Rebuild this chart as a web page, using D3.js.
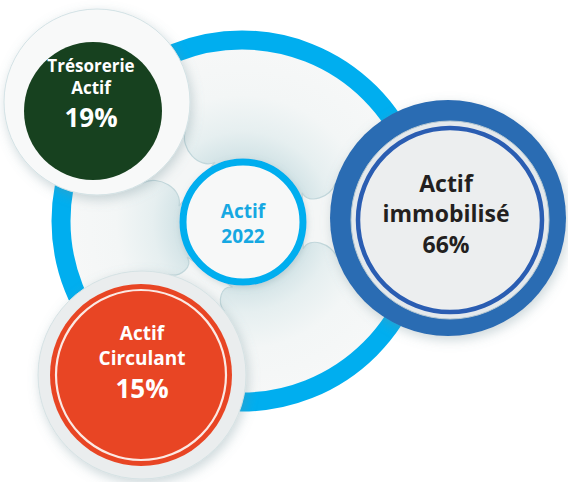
<!DOCTYPE html>
<html>
<head>
<meta charset="utf-8">
<script src="https://cdn.jsdelivr.net/npm/d3@7"></script>
<style>
  body { margin: 0; background: #fff; }
  svg { display: block; }
</style>
</head>
<body>
<script>
// donnees
var titre = ["Actif", "2022"];
var categories = [["Actif", "immobilisé"], ["Trésorerie", "Actif"], ["Actif", "Circulant"]];
var valeurs = [66, 19, 15];
var couleurs = ["#2b6cb3", "#17411f", "#e84524"];

var width = 568, height = 482;

var svg = d3.select("body").append("svg")
    .attr("width", width)
    .attr("height", height);

var defs = svg.append("defs");

// ombres
var ombre = defs.append("filter").attr("id", "ombre")
    .attr("x", "-30%").attr("y", "-30%").attr("width", "160%").attr("height", "160%");
ombre.append("feDropShadow")
    .attr("dx", 2).attr("dy", 4).attr("stdDeviation", 6)
    .attr("flood-color", "#6f8f96").attr("flood-opacity", 0.35);

var ombreDouce = defs.append("filter").attr("id", "ombreDouce")
    .attr("x", "-30%").attr("y", "-30%").attr("width", "160%").attr("height", "160%");
ombreDouce.append("feDropShadow")
    .attr("dx", 1).attr("dy", 2).attr("stdDeviation", 3)
    .attr("flood-color", "#7c9aa0").attr("flood-opacity", 0.3);

var centre = {x: 242, y: 221};
var cc = {x: 243, y: 222};   // cercle "Actif 2022"

// fond de l'anneau : bleute pres du centre
var grad = defs.append("radialGradient").attr("id", "fond")
    .attr("gradientUnits", "userSpaceOnUse")
    .attr("cx", cc.x).attr("cy", cc.y).attr("r", 181);
grad.append("stop").attr("offset", "0.35").attr("stop-color", "#d2e3e6");
grad.append("stop").attr("offset", "0.5").attr("stop-color", "#e6eff0");
grad.append("stop").attr("offset", "0.7").attr("stop-color", "#f3f6f6");
grad.append("stop").attr("offset", "1").attr("stop-color", "#f7f8f8");

svg.append("circle")
    .attr("cx", centre.x).attr("cy", centre.y).attr("r", 172)
    .attr("fill", "url(#fond)");

// positions des bulles
var bulles = [
  {x: 448, y: 218, r: 118, hx: 448, hy: 218, halo: 118},
  {x: 93, y: 111, r: 69, halo: 93, hx: 97, hy: 102},
  {x: 141, y: 375, r: 91, halo: 104, hx: 142, hy: 375}
];

// liaison type metaball entre deux cercles
function metaball(c1, r1, c2, r2, v, poignee) {
  var dx = c2.x - c1.x, dy = c2.y - c1.y;
  var d = Math.sqrt(dx * dx + dy * dy);
  var base = Math.atan2(dy, dx);
  var spread = Math.acos((r1 - r2) / d);
  var a1 = base + spread * v, a2 = base - spread * v;
  var a3 = base + Math.PI - (Math.PI - spread) * v;
  var a4 = base - Math.PI + (Math.PI - spread) * v;
  function pt(c, a, r) { return [c.x + r * Math.cos(a), c.y + r * Math.sin(a)]; }
  var p1 = pt(c1, a1, r1), p2 = pt(c1, a2, r1);
  var p3 = pt(c2, a3, r2), p4 = pt(c2, a4, r2);
  var h1 = [p1[0] + poignee * Math.cos(a1 - Math.PI / 2), p1[1] + poignee * Math.sin(a1 - Math.PI / 2)];
  var h2 = [p2[0] + poignee * Math.cos(a2 + Math.PI / 2), p2[1] + poignee * Math.sin(a2 + Math.PI / 2)];
  var h3 = [p3[0] + poignee * Math.cos(a3 + Math.PI / 2), p3[1] + poignee * Math.sin(a3 + Math.PI / 2)];
  var h4 = [p4[0] + poignee * Math.cos(a4 - Math.PI / 2), p4[1] + poignee * Math.sin(a4 - Math.PI / 2)];
  var p = d3.path();
  p.moveTo(p1[0], p1[1]);
  p.bezierCurveTo(h1[0], h1[1], h3[0], h3[1], p3[0], p3[1]);
  p.lineTo(p4[0], p4[1]);
  p.bezierCurveTo(h4[0], h4[1], h2[0], h2[1], p2[0], p2[1]);
  p.closePath();
  return p.toString();
}

// forme blanche reliant les bulles
var gForme = svg.append("g");
var liaisons = [
  {b: bulles[0], v: 0.24, h: 14},
  {b: bulles[1], v: 0.26, h: 18},
  {b: bulles[2], v: 0.24, h: 12}
];
gForme.selectAll("path.liaison")
    .data(liaisons)
    .enter()
    .append("path")
    .attr("class", "liaison")
    .attr("d", function(d) { return metaball(cc, 66, {x: d.b.hx, y: d.b.hy}, d.b.halo, d.v, d.h); })
    .attr("fill", "#f4f6f6")
    .attr("stroke", "#c2d7db")
    .attr("stroke-width", 1.2);

// grand anneau
svg.append("circle")
    .attr("cx", centre.x).attr("cy", centre.y).attr("r", 181)
    .attr("fill", "none")
    .attr("stroke", "#00aeef")
    .attr("stroke-width", 19);

// halos
svg.append("circle")
    .attr("cx", bulles[1].hx).attr("cy", bulles[1].hy).attr("r", bulles[1].halo)
    .attr("fill", "#f8f9f9").attr("stroke", "#d3e2e5").attr("filter", "url(#ombre)");
svg.append("circle")
    .attr("cx", bulles[2].hx).attr("cy", bulles[2].hy).attr("r", bulles[2].halo)
    .attr("fill", "#eaedee").attr("stroke", "#d5e2e4").attr("filter", "url(#ombre)");

// cercle central
svg.append("circle")
    .attr("cx", cc.x).attr("cy", cc.y).attr("r", 60)
    .attr("fill", "#f7f8f8")
    .attr("stroke", "#00aeef").attr("stroke-width", 7)
    .attr("filter", "url(#ombreDouce)");

// bulle bleue
var b = bulles[0];
svg.append("circle").attr("cx", b.x).attr("cy", b.y).attr("r", b.r)
    .attr("fill", couleurs[0]).attr("filter", "url(#ombre)");
svg.append("circle").attr("cx", b.x + 2).attr("cy", b.y + 2).attr("r", 99)
    .attr("fill", "#e4e9ec").attr("stroke", "#b8c9d2").attr("stroke-width", 1);
svg.append("circle").attr("cx", b.x + 2).attr("cy", b.y + 2).attr("r", 92)
    .attr("fill", "#eceeef").attr("stroke", "#2a5db2").attr("stroke-width", 4.5);

// bulle verte
var v = bulles[1];
svg.append("circle").attr("cx", v.x).attr("cy", v.y).attr("r", v.r)
    .attr("fill", couleurs[1]);

// bulle orange
var o = bulles[2];
svg.append("circle").attr("cx", o.x).attr("cy", o.y).attr("r", o.r)
    .attr("fill", couleurs[2]);
svg.append("circle").attr("cx", o.x).attr("cy", o.y).attr("r", 85)
    .attr("fill", "none").attr("stroke", "#fbe9e4").attr("stroke-width", 2.2);

// textes
var police = "'Open Sans', 'Noto Sans', sans-serif";
function lignes(x, ys, textes, tailles, couleur) {
  svg.append("g").selectAll("text")
    .data(textes)
    .enter()
    .append("text")
    .attr("x", x)
    .attr("y", function(d, i) { return ys[i]; })
    .attr("text-anchor", "middle")
    .attr("font-family", police)
    .attr("font-weight", 700)
    .attr("font-size", function(d, i) { return tailles[i]; })
    .attr("fill", couleur)
    .text(function(d) { return d; });
}

lignes(243, [218, 243], titre, [19, 19], "#16a8e2");
lignes(446, [192, 222, 253], categories[0].concat([valeurs[0] + "%"]), [23, 23, 23], "#231f20");
lignes(91, [72, 94, 127], categories[1].concat([valeurs[1] + "%"]), [17, 17, 26], "#ffffff");
lignes(142, [340, 365, 398], categories[2].concat([valeurs[2] + "%"]), [19, 19, 26], "#ffffff");
</script>
</body>
</html>
